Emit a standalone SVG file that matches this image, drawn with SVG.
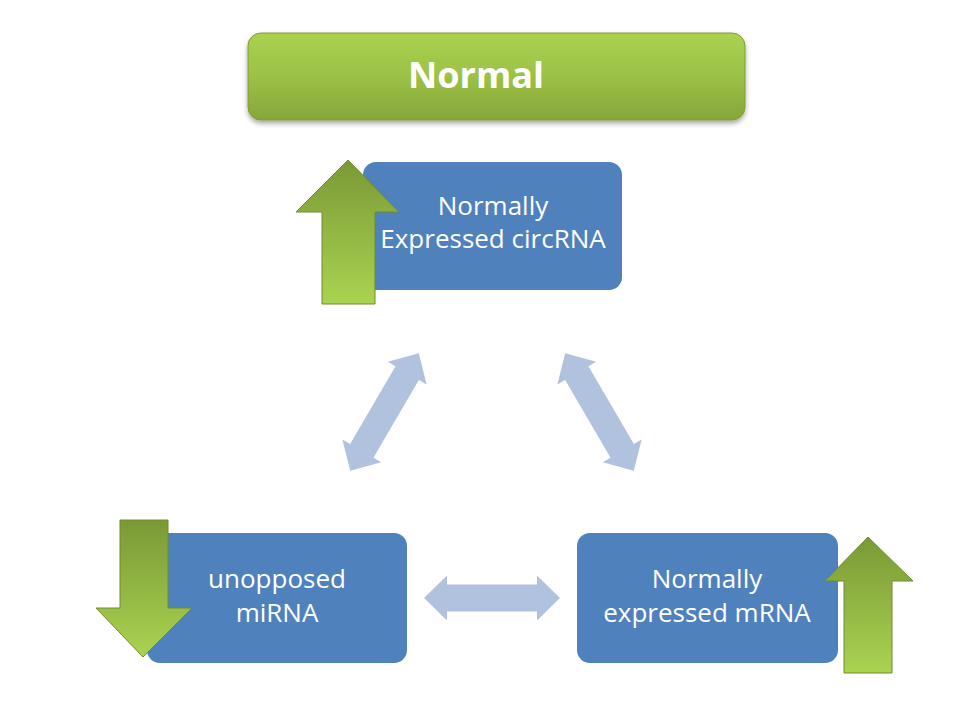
<svg xmlns="http://www.w3.org/2000/svg" width="960" height="720" viewBox="0 0 960 720">
<defs>
<linearGradient id="gTitle" x1="0" y1="0" x2="0" y2="1">
<stop offset="0" stop-color="#AAD250"/>
<stop offset="0.5" stop-color="#9CC146"/>
<stop offset="1" stop-color="#86A63A"/>
</linearGradient>
<linearGradient id="gArrow" x1="0" y1="0" x2="0" y2="1">
<stop offset="0" stop-color="#7A9935"/>
<stop offset="1" stop-color="#AAD351"/>
</linearGradient>
<filter id="shadow" x="-5%" y="-20%" width="110%" height="150%">
<feDropShadow dx="0" dy="3" stdDeviation="2.5" flood-color="#000" flood-opacity="0.35"/>
</filter>
<path id="dbl" d="M-68,0 L-45,-22.5 L-45,-13.5 L45,-13.5 L45,-22.5 L68,0 L45,22.5 L45,13.5 L-45,13.5 L-45,22.5 Z"/>
</defs>
<style>
.box{fill:#4F81BD;}
.lbl{font-family:"Open Sans","Liberation Sans",sans-serif;font-size:26px;fill:#FFFFFF;text-anchor:middle;}
.title{font-family:"Open Sans","Liberation Sans",sans-serif;font-size:36px;font-weight:bold;fill:#FFFFFF;text-anchor:middle;}
.garrow{fill:url(#gArrow);stroke:#6F8C2F;stroke-width:1;stroke-linejoin:miter;}
.conn{fill:#B0C2DE;}
</style>
<rect width="960" height="720" fill="#FFFFFF"/>

<g id="title-normal">
<rect x="248" y="33" width="497" height="87" rx="13" fill="url(#gTitle)" stroke="#7E9C36" stroke-width="1" filter="url(#shadow)"/>
<text class="title" x="476" y="88">Normal</text>
</g>

<g id="connectors">
<use href="#dbl" class="conn" transform="translate(492,598)"/>
<use href="#dbl" class="conn" transform="translate(384.5,412) rotate(-59.7)"/>
<use href="#dbl" class="conn" transform="translate(599.5,412) rotate(59.7)"/>
</g>

<g id="node-circrna">
<rect class="box" x="363" y="162" width="259" height="128" rx="13"/>
<text class="lbl" x="493" y="215">Normally</text>
<text class="lbl" x="493" y="248">Expressed circRNA</text>
<path class="garrow" d="M348,160 L399,212 L375,212 L375,304 L322,304 L322,212 L296,212 Z"/>
</g>

<g id="node-mirna">
<rect class="box" x="147" y="533" width="260" height="130" rx="13"/>
<text class="lbl" x="277" y="588">unopposed</text>
<text class="lbl" x="277" y="622">miRNA</text>
<path class="garrow" d="M120,520 L168,520 L168,608 L192,608 L143,657 L96,608 L120,608 Z"/>
</g>

<g id="node-mrna">
<rect class="box" x="577" y="533" width="261" height="130" rx="13"/>
<text class="lbl" x="707" y="588">Normally</text>
<text class="lbl" x="707" y="622">expressed mRNA</text>
<path class="garrow" d="M868,537 L913,581 L892,581 L892,673 L844,673 L844,581 L825,581 Z"/>
</g>
</svg>
